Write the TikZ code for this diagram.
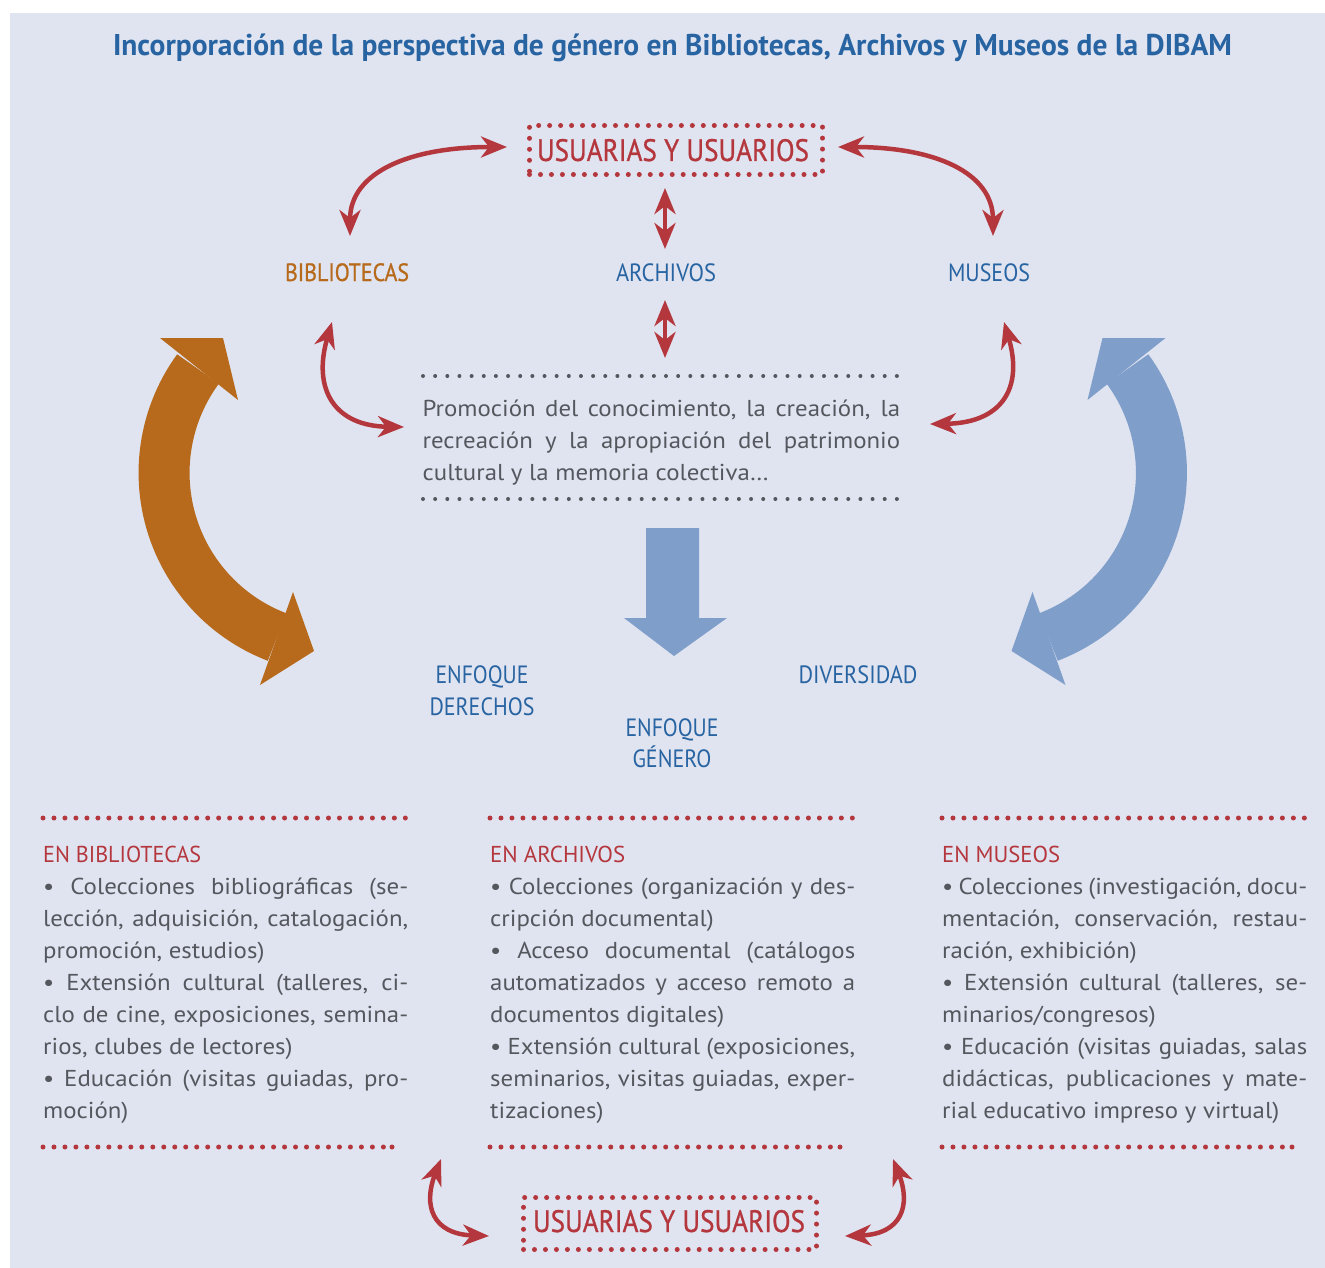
\documentclass[tikz,border=0pt]{standalone}
\usepackage{fontspec}
\setmainfont{PT Sans}
\newfontfamily\bodyfont{PT Sans}[FakeStretch=1.08]
\newfontfamily\medfont{PT Sans}[FakeBold=0.9]
\usepackage{graphicx}
\usetikzlibrary{arrows.meta}
\definecolor{bgc}{RGB}{224,228,240}
\definecolor{redc}{RGB}{180,55,62}
\definecolor{orangec}{RGB}{183,106,27}
\definecolor{bluet}{RGB}{40,100,162}
\definecolor{bluea}{RGB}{128,158,202}
\definecolor{grayt}{RGB}{84,88,94}
\newcommand\J[2][365pt]{\makebox[#1][s]{#2}}
\newcommand\W[2]{\resizebox{#1pt}{\height}{#2}}
\begin{document}
\begin{tikzpicture}[x=1pt,y=-1pt,
 lbl/.style={anchor=base, inner sep=0pt, font=\fontsize{25}{25}\selectfont},
 body/.style={anchor=base west, inner sep=0pt, text=grayt, font=\bodyfont\fontsize{23}{32}\selectfont},
 redarr/.style={draw=redc, line width=4.5pt, {Stealth[length=26pt,width=21pt,inset=8pt]}-{Stealth[length=26pt,width=21pt,inset=8pt]}},
 reddots/.style={draw=redc, line width=5pt, line cap=round, dash pattern=on 0pt off 10.98pt},
 graydots/.style={draw=grayt, line width=4pt, line cap=round, dash pattern=on 0pt off 12.15pt},
 bigarc/.style={line width=51pt}
]
\useasboundingbox (0,0) rectangle (1325,1268);
\fill[bgc] (10,13) rectangle (1325,1268);

% title
\node[anchor=base, inner sep=0pt, text=bluet, font=\fontsize{30}{30}\selectfont\bfseries] (title) at (672.5,56)
 {\W{1119}{Incorporación de la perspectiva de género en Bibliotecas, Archivos y Museos de la DIBAM}};

% top users box
\node[reddots, minimum width=293pt, minimum height=49pt, inner sep=0pt, anchor=north west] (ubox1) at (527,123) {};
\node[lbl, text=redc, font=\medfont\fontsize{31}{31}\selectfont] (u1) at (673,161) {\W{272}{USUARIAS Y USUARIOS}};

% labels
\node[lbl, text=orangec, font=\medfont\fontsize{25}{25}\selectfont] (bib) at (347,281) {\W{124}{BIBLIOTECAS}};
\node[lbl, text=bluet] (arc) at (666,281) {\W{100}{ARCHIVOS}};
\node[lbl, text=bluet] (mus) at (989,281) {\W{82}{MUSEOS}};
\node[lbl, text=bluet] (ed1) at (482,683) {\W{93}{ENFOQUE}};
\node[lbl, text=bluet] (ed2) at (482,715) {\W{105}{DERECHOS}};
\node[lbl, text=bluet] (eg1) at (672,736) {\W{93}{ENFOQUE}};
\node[lbl, text=bluet] (eg2) at (672,767) {\W{79}{GÉNERO}};
\node[lbl, text=bluet] (div) at (858,683) {\W{119}{DIVERSIDAD}};

% red arrows
\coordinate (a1s) at (350,236); \coordinate (a1e) at (507,147);
\coordinate (a2s) at (993,236); \coordinate (a2e) at (838,147);
\coordinate (a3s) at (665,188); \coordinate (a3e) at (665,249);
\coordinate (a4s) at (665,300); \coordinate (a4e) at (665,358);
\coordinate (a5s) at (332,322); \coordinate (a5e) at (404,427);
\coordinate (a6s) at (1004,322); \coordinate (a6e) at (930,424);
\coordinate (a7s) at (441,1159); \coordinate (a7e) at (489,1236);
\coordinate (a8s) at (893,1159); \coordinate (a8e) at (845,1236);
\draw[redarr] (a1s) .. controls (350,172) and (410,147) .. (a1e);
\draw[redarr] (a2s) .. controls (993,172) and (934,147) .. (a2e);
\draw[redarr] (a3s) -- (a3e);
\draw[redarr] (a4s) -- (a4e);
\draw[redarr] (a5s) .. controls (312,390) and (335,426) .. (a5e);
\draw[redarr] (a6s) .. controls (1024,390) and (1000,423) .. (a6e);
\draw[redarr] (a7s) .. controls (423,1205) and (432,1234) .. (a7e);
\draw[redarr] (a8s) .. controls (911,1205) and (902,1234) .. (a8e);

% middle text
\draw[graydots] (423,376) -- (898.5,376);
\node[body] (m1) at (422.5,416) {\J[477.5pt]{Promoción del conocimiento, la creación, la}};
\node[body] (m2) at (422.5,448) {\J[477.5pt]{recreación y la apropiación del patrimonio}};
\node[body] (m3) at (422.5,480) {cultural y la memoria colectiva…};
\draw[graydots] (423,499) -- (898.5,499);

% big orange arc (circle arc, centre (339.8,472.9), r 175.8)
\draw[orangec, bigarc] (198,369) arc[start angle=143.8, end angle=249.1, radius=175.8pt];
\fill[orangec] (160,338) -- (223,338) -- (238,400) -- cycle;
\fill[orangec] (293,592) -- (314,651) -- (260,685) -- cycle;

% big blue arc (centre (985.7,472.9))
\draw[bluea, bigarc] (1127.5,369) arc[start angle=36.2, end angle=-69.1, radius=175.8pt];
\fill[bluea] (1165.5,338) -- (1102.5,338) -- (1087.5,400) -- cycle;
\fill[bluea] (1032.5,592) -- (1011.5,651) -- (1065.5,685) -- cycle;

% down arrow
\fill[bluea] (646,528) -- (699,528) -- (699,618) -- (727,618) -- (674,656) -- (624,618) -- (646,618) -- cycle;

% columns
\draw[reddots] (43,818) -- (406.5,818);
\draw[reddots] (490,818) -- (855.5,818);
\draw[reddots] (942,818) -- (1307.5,818);
\draw[reddots] (43,1147) -- (384,1147);
\draw[reddots] (490,1147) -- (831,1147);
\draw[reddots] (942,1147) -- (1283,1147);
\fill[redc] (392,1147) circle[radius=2.5pt];
\fill[redc] (840,1147) circle[radius=2.5pt];
\fill[redc] (1292,1147) circle[radius=2.5pt];

\foreach \t [count=\i from 0] in {
 {\textcolor{redc}{\W{158}{EN BIBLIOTECAS}}},
 {\J{• Colecciones bibliográficas (se-}},
 {\J{lección, adquisición, catalogación,}},
 {promoción, estudios)},
 {\J{• Extensión cultural (talleres, ci-}},
 {\J{clo de cine, exposiciones, semina-}},
 {rios, clubes de lectores)},
 {\J{• Educación (visitas guiadas, pro-}},
 {moción)}}
 {\node[body] (ca\i) at (43,862+32*\i) {\t};}

\foreach \t [count=\i from 0] in {
 {\textcolor{redc}{\W{135}{EN ARCHIVOS}}},
 {\J{• Colecciones (organización y des-}},
 {cripción documental)},
 {\J{• Acceso documental (catálogos}},
 {\J{automatizados y acceso remoto a}},
 {documentos digitales)},
 {\J{• Extensión cultural (exposiciones,}},
 {\J{seminarios, visitas guiadas, exper-}},
 {tizaciones)}}
 {\node[body] (cb\i) at (490,862+32*\i) {\t};}

\foreach \t [count=\i from 0] in {
 {\textcolor{redc}{\W{118}{EN MUSEOS}}},
 {\J{• Colecciones (investigación, docu-}},
 {\J{mentación, conservación, restau-}},
 {ración, exhibición)},
 {\J{• Extensión cultural (talleres, se-}},
 {minarios/congresos)},
 {\J{• Educación (visitas guiadas, salas}},
 {\J{didácticas, publicaciones y mate-}},
 {rial educativo impreso y virtual)}}
 {\node[body] (cc\i) at (942,862+32*\i) {\t};}

% bottom users box
\node[reddots, minimum width=293pt, minimum height=52pt, inner sep=0pt, anchor=north west] (ubox2) at (521,1195) {};
\node[lbl, text=redc, font=\medfont\fontsize{31}{31}\selectfont] (u2) at (669,1232) {\W{272}{USUARIAS Y USUARIOS}};
\end{tikzpicture}
\end{document}
